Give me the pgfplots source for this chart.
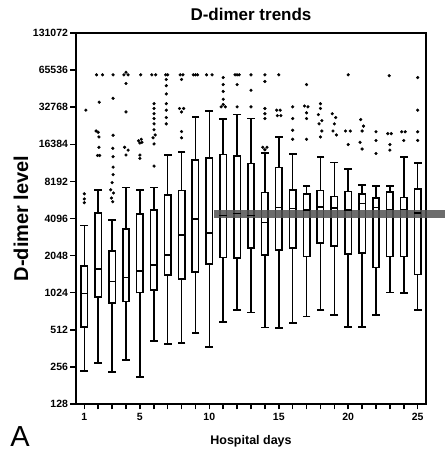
\documentclass[border=0pt]{standalone}
\usepackage{fontspec}
\setmainfont{Liberation Sans}
\usepackage{pgfplots}
\pgfplotsset{compat=1.18}

% one box: position, lower whisker, lower quartile, median, upper quartile, upper whisker
\newcommand\bx[6]{%
  \addplot[black, line width=1.6pt] coordinates {(#1,#2)(#1,#6)};
  \addplot[black, line width=8pt] coordinates {(#1,#3)(#1,#5)};
  \addplot[white, line width=4.8pt, shorten <=1.6pt, shorten >=1.6pt] coordinates {(#1,#3)(#1,#5)};
  \addplot[only marks, mark=-, mark size=3.9pt, mark options={line width=1.6pt, black}] coordinates {(#1,#2)(#1,#6)};
  \addplot[only marks, mark=-, mark size=3.8pt, mark options={line width=1.6pt, black}] coordinates {(#1,#4)};
}

\begin{document}
\begin{tikzpicture}
\useasboundingbox (-76pt,-49pt) rectangle (370pt,404pt);
\begin{axis}[
  scale only axis, width=350pt, height=371pt,
  ymode=log, log basis y=2,
  xmin=0.4, xmax=25.6, ymin=128, ymax=131072,
  clip=false,
  axis line style={line width=2pt},
  tick align=outside, tick style={line width=1.5pt, black}, major tick length=5.5pt,
  xtick pos=bottom, ytick pos=left,
  xtick={1,...,25},
  xticklabels={1,,,,5,,,,,10,,,,,15,,,,,20,,,,,25},
  ytick={128,256,512,1024,2048,4096,8192,16384,32768,65536,131072},
  yticklabels={128,256,512,1024,2048,4096,8192,16384,32768,65536,131072},
  ticklabel style={font=\fontsize{10.5}{12}\selectfont\bfseries},
  yticklabel style={xshift=1pt},
  title={D-dimer trends},
  title style={font=\fontsize{17}{19}\selectfont\bfseries, at={(axis description cs:0.5,1)}, anchor=base, yshift=6pt},
  xlabel={Hospital days},
  xlabel style={font=\fontsize{12.5}{14}\selectfont\bfseries, at={(axis description cs:0.5,0)}, anchor=base, yshift=-41pt},
  ylabel={D-dimer level},
  ylabel style={font=\fontsize{20}{22}\selectfont\bfseries, at={(axis description cs:-0.157,0.5)}, anchor=center},
]
\bx{1}{238}{534}{1010}{1720}{3600}
\bx{2}{275}{936}{1600}{4600}{7000}
\bx{3}{234}{832}{1260}{2270}{4000}
\bx{4}{292}{855}{1360}{3420}{7300}
\bx{5}{213}{1010}{1540}{4520}{7000}
\bx{6}{416}{1060}{1720}{4900}{7300}
\bx{7}{392}{1400}{2070}{6480}{13400}
\bx{8}{400}{1300}{3000}{7000}{14250}
\bx{9}{484}{1490}{4070}{12400}{27400}
\bx{10}{373}{1720}{3140}{12900}{30600}
\bx{11}{590}{1950}{4330}{13700}{26300}
\bx{12}{740}{1930}{4500}{13300}{28500}
\bx{13}{710}{2320}{4330}{11600}{26600}
\bx{14}{534}{2040}{3800}{6760}{13900}
\bx{15}{530}{2230}{5030}{10800}{18800}
\bx{16}{583}{2320}{4930}{7080}{13700}
\bx{17}{655}{1980}{4800}{6580}{7530}
\bx{18}{740}{2540}{5100}{7000}{12900}
\bx{19}{676}{2420}{5000}{6250}{11700}
\bx{20}{542}{2070}{4800}{6900}{10300}
\bx{21}{542}{2120}{5440}{6580}{7700}
\bx{22}{676}{1620}{5030}{6070}{7530}
\bx{23}{1030}{1980}{4860}{6800}{7530}
\bx{24}{1020}{1980}{4860}{6150}{12900}
\bx{25}{740}{1420}{4520}{7200}{11500}

% outliers
\addplot[only marks, mark=*, mark size=1.4pt, black] coordinates {
 (1,5500)(1,5900)(1,6500)(1.11,31000)
 (1.88,60000)(2.31,60000)(2.07,36000)(1.85,21000)(2.0,20500)(2.05,18800)(2.05,15500)(1.95,13300)(2.1,13300)
 (3.07,60000)(3.07,38700)(3.07,19400)(3.05,15200)(3.07,13000)(3.07,10700)(3.07,9300)(3.0,8000)(2.9,7000)(3.1,6600)(2.95,6000)(3.05,5600)
 (3.85,60000)(4.0,63000)(4.15,60000)(4,51000)(4,30000)(3.9,15500)(4.15,14700)(4,13400)
 (5.06,60000)(4.9,17500)(5.1,18000)(5.0,16800)(5.15,17000)(5,12600)(5,13400)
 (5.86,60000)(6.14,60000)(6.02,35000)(6.02,32000)(6.02,29000)(6.02,26500)(6.02,24000)(6.02,21500)(6.1,19500)(5.95,18500)(6.02,16500)(6.02,10900)
 (6.86,60000)(7.0,60000)(6.9,55000)(6.9,49000)(6.9,42000)(6.9,35000)(6.9,31000)(6.9,27000)(6.9,24000)
 (7.9,60000)(8.1,60000)(8,55000)(7.85,32000)(8,30000)(8.15,32000)(8,20800)(8,18500)
 (8.85,60000)(9,60000)(9.15,60000)
 (9.8,60000)(10.2,60000)
 (11,57000)(11,50000)(11,44000)(11,38000)(10.85,33000)(11,34500)(11.15,33000)
 (11.85,60000)(12,60000)(12.15,60000)(12,50000)(12,33000)
 (13,60000)(13,45000)(13,33000)
 (14,60000)(14,53000)(14,32000)(14,29000)(14,26500)(13.85,15500)(14,14800)(14.15,15500)
 (15,60000)(14.85,31000)(15.1,31000)(14.9,28000)(15.15,28000)
 (16,33000)(16,26500)(16,21300)(16,18000)
 (17,50000)(16.85,33500)(17.1,33000)(17,29500)(17,26500)(17,18000)
 (18,35000)(18,32000)(17.85,28500)(18.1,25500)(17.9,24000)(18.1,21000)(18,18800)
 (18.85,29000)(19.1,27000)(19,24000)(18.9,21000)(19.15,19500)
 (20,60000)(19.8,21000)(20.15,21000)(20,16300)
 (20.9,26000)(21.1,23000)(21,21000)(20.85,17000)(21,15000)
 (22,20700)(22,17600)(22,13800)
 (22.95,59000)(22.85,20000)(23.1,20000)(23,16300)(23,14700)
 (23.85,20700)(24.1,20700)(24,17600)
 (25,57000)(25,31000)(25,20700)(25,17600)
};

% grey scan band across the right half
\addplot[draw=black!68, line width=7.5pt, opacity=0.85] coordinates {(10.35,4450)(27,4450)};
\end{axis}
\node[font=\fontsize{29}{29}\selectfont, inner sep=0pt, anchor=base] at (-56pt,-42pt) {A};
\end{tikzpicture}
\end{document}
